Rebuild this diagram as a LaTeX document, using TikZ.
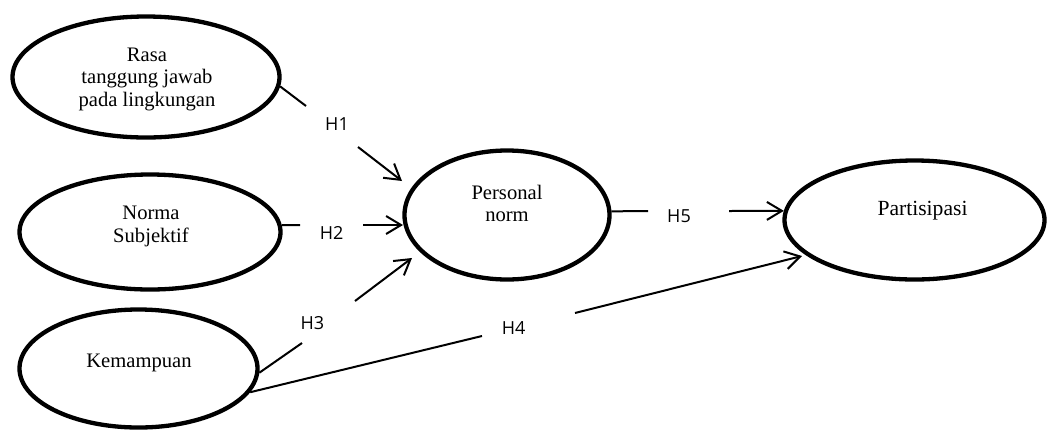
\documentclass[tikz,border=0pt]{standalone}
\usepackage{fontspec}
\setmainfont{Liberation Serif}
\newfontfamily\labfont{Open Sans}
\usetikzlibrary{shapes.geometric,arrows.meta}
\begin{document}
\begin{tikzpicture}[x=1pt,y=-1pt,
  oval/.style={ellipse,draw,line width=4.3pt,inner sep=0pt},
  txt/.style={align=center,font=\fontsize{20.6}{22.5}\selectfont,inner sep=0pt},
  hlab/.style={font=\labfont\fontsize{18}{20}\selectfont,inner sep=0pt},
  conn/.style={line width=2pt},
  arr/.style={line width=2pt,-{Straight Barb[length=15pt,width=18pt]}}]
\useasboundingbox (0,0) rectangle (1049,432);
% latent variables
\node[oval,minimum width=267pt,minimum height=121pt] (rasa) at (146,77) {};
\node[oval,minimum width=261pt,minimum height=115pt] (norma) at (150,232) {};
\node[oval,minimum width=238pt,minimum height=118pt] (kem) at (138.5,368.5) {};
\node[oval,minimum width=205pt,minimum height=129pt] (pn) at (507,215) {};
\node[oval,minimum width=260pt,minimum height=119pt] (part) at (914.5,220) {};
% texts
\node[txt] (rasaT) at (147,79) {Rasa\\tanggung jawab\\pada lingkungan};
\node[txt] (normaT) at (151,226.3) {Norma\\Subjektif};
\node[txt] (kemT) at (139,363.3) {Kemampuan};
\node[txt] (pnT) at (507,203.6) {Personal\\norm};
\node[txt,font=\fontsize{21.6}{24}\selectfont] (partT) at (922.5,211) {Partisipasi};
% hypothesis labels
\node[hlab] (H1) at (337,124.5) {H1};
\node[hlab] (H2) at (331.7,232.7) {H2};
\node[hlab] (H3) at (312.3,323.3) {H3};
\node[hlab] (H4) at (513.7,327.7) {H4};
\node[hlab] (H5) at (679,216.3) {H5};
% gap ends and tips
\coordinate (h1a) at (306,106); \coordinate (h1b) at (358,147); \coordinate (h1t) at (402,181);
\coordinate (h2a) at (300,225); \coordinate (h2b) at (363,225); \coordinate (h2t) at (403,225);
\coordinate (h3a) at (302,343); \coordinate (h3b) at (355,301); \coordinate (h3t) at (412,258);
\coordinate (h4a) at (482,336); \coordinate (h4b) at (575,313); \coordinate (h4t) at (802,256);
\coordinate (h5a) at (648,211); \coordinate (h5b) at (729,211);
% connectors
\draw[conn] (rasa.-4) -- (h1a);
\draw[arr] (h1b) -- (h1t);
\draw[conn] (norma.3) -- (h2a);
\draw[arr] (h2b) -- (h2t);
\draw[conn] (kem.-2) -- (h3a);
\draw[arr] (h3b) -- (h3t);
\draw[conn] (kem.-12) -- (h4a);
\draw[arr] (h4b) -- (h4t);
\draw[conn] (pn.2) -- (h5a);
\draw[arr] (h5b) -- (part.176);
\end{tikzpicture}
\end{document}
